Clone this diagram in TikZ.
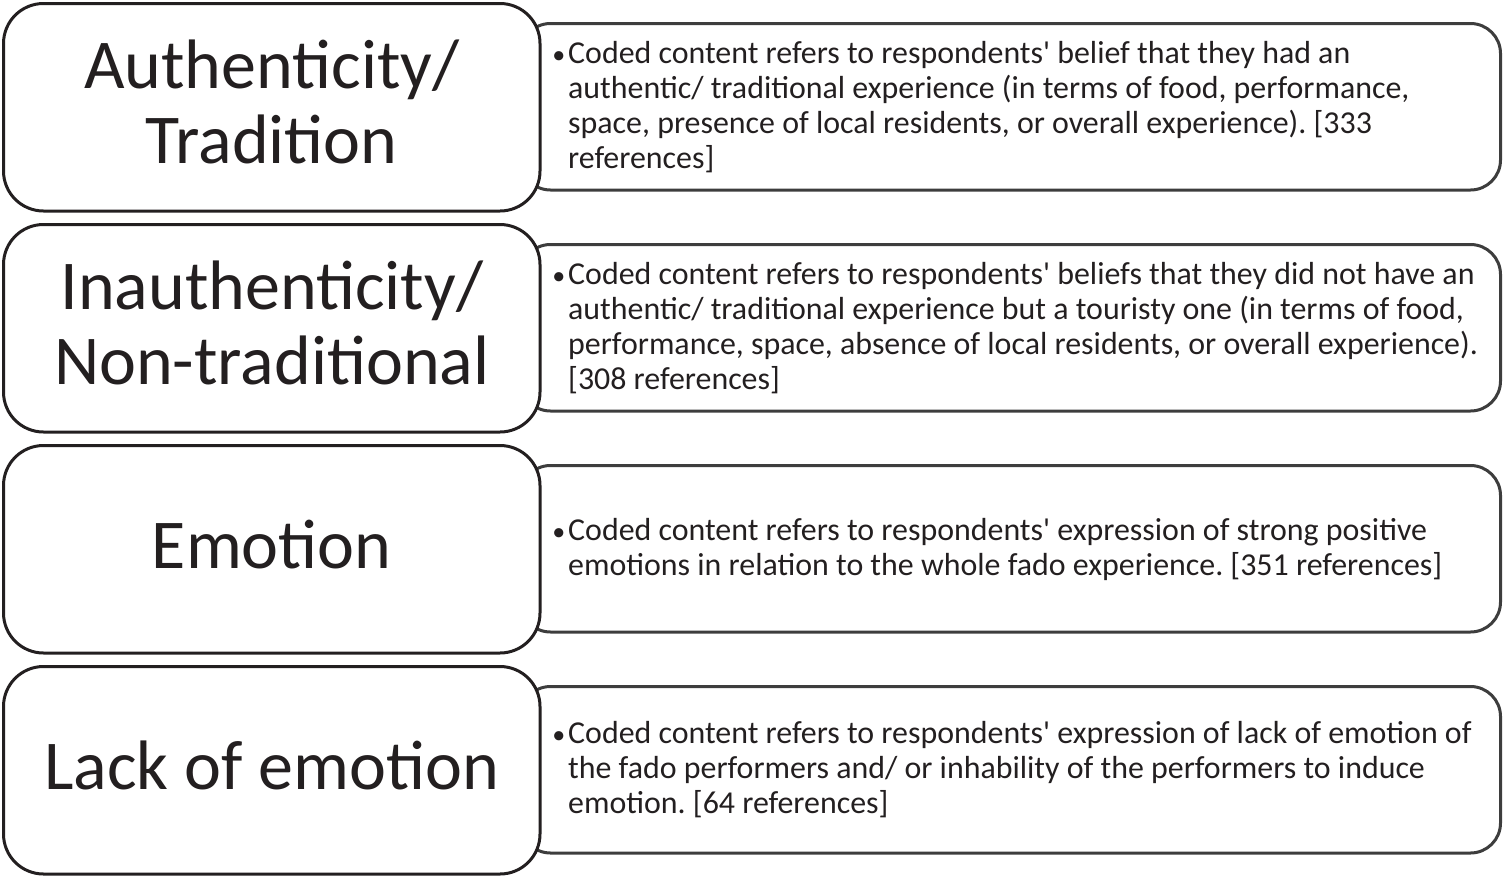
\documentclass[tikz,border=0pt]{standalone}
\usepackage{fontspec}
\setmainfont{Carlito}[Ligatures=TeXOff]
\definecolor{ink}{HTML}{231F20}
\definecolor{rline}{HTML}{3D3D3D}
\frenchspacing
\begin{document}
\begin{tikzpicture}[x=1pt,y=-1pt,
  titlebox/.style={draw=ink,line width=3pt,rounded corners=40pt,fill=white,
    minimum width=536.5pt,minimum height=207.5pt,inner sep=0pt,anchor=north west},
  descbox/.style={draw=rline,line width=3pt,rounded corners=30pt,fill=white,
    minimum width=980pt,minimum height=166.5pt,inner sep=0pt,anchor=north west},
  titletext/.style={align=center,font=\fontsize{70}{75}\selectfont,text=ink,inner sep=0pt,yshift=5pt},
  desctext/.style={align=left,font=\fontsize{31.9}{35}\selectfont,text=ink,inner sep=0pt,anchor=west}]
\useasboundingbox (0,0) rectangle (1504,878);
\newcommand\bul{\llap{\fontsize{26}{35}\selectfont•\hspace{3pt}}}
% row 1
\node[descbox] (d1) at (519,22) {};
\node[titlebox] (t1) at (2,2) {};
\node[titletext] (tt1) at (t1.center) {Authenticity/\\Tradition};
\node[desctext] (dt1) at (568,107) {\bul Coded content refers to respondents' belief that they had an\\authentic/ traditional experience (in terms of food, performance,\\space, presence of local residents, or overall experience). [333\\references]};
% row 2
\node[descbox] (d2) at (519,243) {};
\node[titlebox] (t2) at (2,223) {};
\node[titletext] (tt2) at (t2.center) {Inauthenticity/\\Non-traditional};
\node[desctext] (dt2) at (568,328) {\bul Coded content refers to respondents' beliefs that they did not have an\\authentic/ traditional experience but a touristy one (in terms of food,\\performance, space, absence of local residents, or overall experience).\\{[}308 references]};
% row 3
\node[descbox] (d3) at (519,464) {};
\node[titlebox] (t3) at (2,444) {};
\node[titletext] (tt3) at (t3.center) {Emotion};
\node[desctext] (dt3) at (568,549) {\bul Coded content refers to respondents' expression of strong positive\\emotions in relation to the whole fado experience. [351 references]};
% row 4
\node[descbox] (d4) at (519,685) {};
\node[titlebox] (t4) at (2,665) {};
\node[titletext] (tt4) at (t4.center) {Lack of emotion};
\node[desctext] (dt4) at (568,770) {\bul Coded content refers to respondents' expression of lack of emotion of\\the fado performers and/ or inhability of the performers to induce\\emotion. [64 references]};
\end{tikzpicture}
\end{document}
